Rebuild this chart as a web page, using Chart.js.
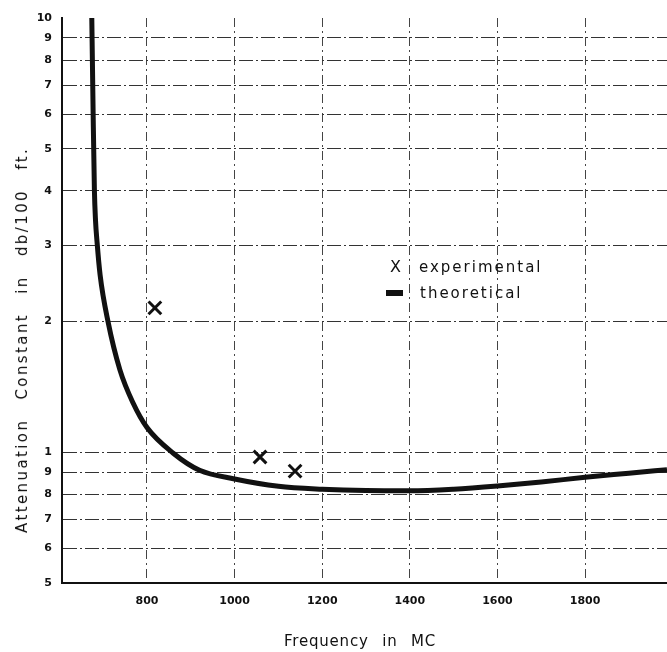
<!DOCTYPE html>
<html><head><meta charset="utf-8">
<script src="https://cdn.jsdelivr.net/npm/chart.js@4.4.1/dist/chart.umd.min.js"></script>
<style>
html,body{margin:0;padding:0;background:#fff;}
#wrap{position:relative;width:667px;height:652px;overflow:hidden;}
canvas{position:absolute;left:0;top:0;}
.t{position:absolute;font-family:"DejaVu Sans",sans-serif;color:#111;white-space:nowrap;}
#ytitle{left:22px;top:340px;transform:translate(-50%,-50%) rotate(-90deg);font-size:15px;letter-spacing:2.4px;word-spacing:12px;}
#xtitle{left:360px;top:641px;transform:translate(-50%,-50%);font-size:15px;letter-spacing:0.8px;word-spacing:8px;}
.leg{position:absolute;font-family:"DejaVu Sans",sans-serif;font-size:15px;letter-spacing:2px;color:#111;white-space:nowrap;line-height:16px;}
.legsym{position:absolute;font-family:"DejaVu Sans",sans-serif;font-size:16px;color:#111;line-height:16px;}
.dash{position:absolute;width:17px;height:6px;background:#111;}
</style></head><body>
<div id="wrap"><canvas id="c" width="667" height="652"></canvas>
<div class="t" id="ytitle">Attenuation Constant in db/100 ft.</div>
<div class="t" id="xtitle">Frequency in MC</div>
<div class="legsym" style="left:390px;top:259px;">X</div>
<div class="leg" style="left:419px;top:259px;">experimental</div>
<div class="dash" style="left:386px;top:290px;"></div>
<div class="leg" style="left:420px;top:285px;">theoretical</div>
</div>
<script>
// Data
const theoryFreq = [674, 677, 680, 682.5, 686, 693, 711, 738, 768, 800, 860, 920, 1000, 1100, 1200, 1300, 1400, 1500, 1600, 1700, 1800, 1900, 1987];
const theoryAtten = [10, 6.1, 4.0, 3.42, 3.05, 2.56, 2.0, 1.55, 1.30, 1.14, 0.995, 0.909, 0.868, 0.835, 0.822, 0.816, 0.815, 0.822, 0.836, 0.854, 0.876, 0.895, 0.912];
const expFreq = [818, 1058, 1138];
const expAtten = [2.15, 0.975, 0.905];
const xTickValues = [800, 1000, 1200, 1400, 1600, 1800];
const xTickLabels = ['800', '1000', '1200', '1400', '1600', '1800'];
const yTickValues = [0.5, 0.6, 0.7, 0.8, 0.9, 1, 2, 3, 4, 5, 6, 7, 8, 9, 10];
const yTickLabels = ['5', '6', '7', '8', '9', '1', '2', '3', '4', '5', '6', '7', '8', '9', '10'];

const theory = theoryFreq.map((f, i) => ({x: f, y: theoryAtten[i]}));
const exper = expFreq.map((f, i) => ({x: f, y: expAtten[i]}));

const tickFont = {family: 'DejaVu Sans', size: 11, weight: 'bold'};

new Chart(document.getElementById('c'), {
  type: 'scatter',
  data: {
    datasets: [
      {label: 'theoretical', data: theory, showLine: true, borderColor: '#111', borderWidth: 5,
       pointRadius: 0, cubicInterpolationMode: 'monotone', fill: false},
      {label: 'experimental', data: exper, showLine: false, pointStyle: 'crossRot', pointRadius: 9,
       borderColor: '#111', borderWidth: 3, backgroundColor: '#111'}
    ]
  },
  options: {
    responsive: false,
    animation: false,
    devicePixelRatio: 1,
    layout: {autoPadding: false, padding: {top: 18, right: 0, bottom: 0, left: 0}},
    plugins: {legend: {display: false}, tooltip: {enabled: false}},
    scales: {
      x: {
        type: 'linear', min: 606, max: 1987,
        afterBuildTicks: s => { s.ticks = xTickValues.map(v => ({value: v})); },
        afterFit: s => { s.height = 69; },
        ticks: {callback: (v, i) => xTickLabels[i], font: tickFont, color: '#111', padding: 12, maxRotation: 0},
        grid: {color: '#444', lineWidth: 1, drawTicks: false},
        border: {display: true, color: '#111', width: 2, dash: [9, 4, 2, 4]}
      },
      y: {
        type: 'logarithmic', min: 0.5, max: 10,
        afterBuildTicks: s => { s.ticks = yTickValues.map(v => ({value: v})); },
        afterFit: s => { s.width = 62; },
        ticks: {callback: (v, i) => yTickLabels[i], font: tickFont, color: '#111', padding: 10, autoSkip: false},
        grid: {color: c => (c.tick && c.tick.value === 10) ? 'rgba(0,0,0,0)' : '#333', lineWidth: 1, drawTicks: false},
        border: {display: true, color: '#111', width: 2, dash: [14, 3, 2, 3]}
      }
    }
  }
});
</script>
</body></html>
